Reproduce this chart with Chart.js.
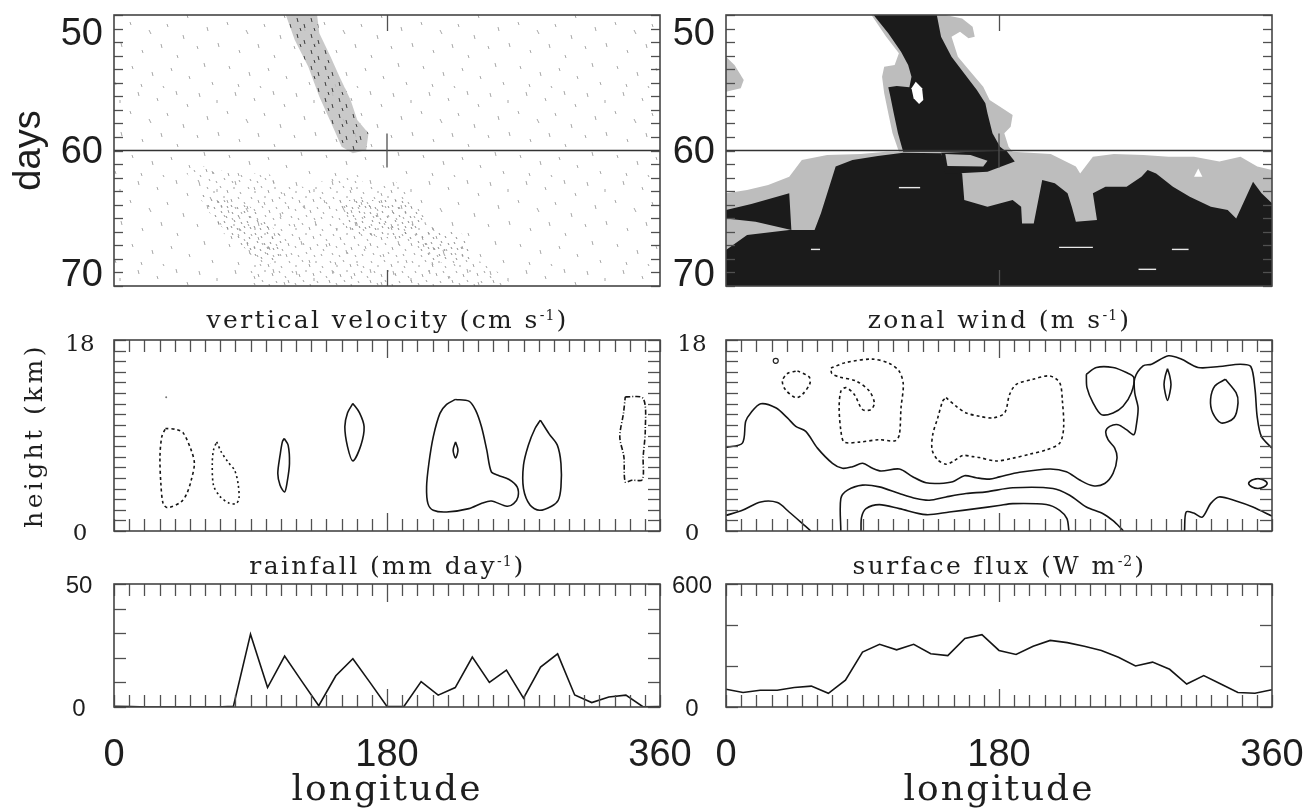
<!DOCTYPE html>
<html>
<head>
<meta charset="utf-8">
<script src="https://cdn.jsdelivr.net/npm/chart.js@4.4.1/dist/chart.umd.min.js"></script>
<style>
  body { margin: 0; background: #fff; width: 1311px; height: 812px; overflow: hidden; position: relative; }
  canvas { position: absolute; left: 0; top: 0; }
</style>
</head>
<body>
<canvas id="tl" width="1311" height="812"></canvas>
<canvas id="tr" width="1311" height="812"></canvas>
<canvas id="ml" width="1311" height="812"></canvas>
<canvas id="mr" width="1311" height="812"></canvas>
<canvas id="bl" width="1311" height="812"></canvas>
<canvas id="br" width="1311" height="812"></canvas>
<script>
// ---- ticks ----
const lonTicks = [0,10,20,30,40,50,60,70,80,90,100,110,120,130,140,150,160,170,180,190,200,210,220,230,240,250,260,270,280,290,300,310,320,330,340,350,360];
const dayTicks = [50,51,52,53,54,55,56,57,58,59,60,61,62,63,64,65,66,67,68,69,70];
const heightTicks = [0,1,2,3,4,5,6,7,8,9,10,11,12,13,14,15,16,17,18];
const rainTicks = [0,10,20,30,40,50];
const fluxTicks = [0,200,400,600];
const dayMark = 60;

// ---- bottom row: line series ----
const lonGrid = [0,11.25,22.5,33.75,45,56.25,67.5,78.75,90,101.25,112.5,123.75,135,146.25,157.5,168.75,180,191.25,202.5,213.75,225,236.25,247.5,258.75,270,281.25,292.5,303.75,315,326.25,337.5,348.75,360];
const rainfall = [0.3,0.2,0,0,0,0,0,0.3,29.6,7.9,20.7,10.5,0.5,12.7,19.6,10,0.2,0.3,10.3,4.8,7.9,20.3,10,15,3.6,16.2,21.6,4.9,1.8,4.1,4.8,0.1,0.2];
const surfaceFlux = [87,71,82,82,95,102,67,131,268,306,279,306,260,251,334,353,276,256,296,325,314,296,276,243,200,219,184,112,153,112,71,67,84];

// ---- vertical velocity contours [lon, km] ----
const vvDown1 = [[33.9,9.66],[41.2,9.57],[45.6,9.25],[50.9,7.62],[53.0,6.36],[50.9,4.78],[48.0,3.52],[44.2,2.74],[35.3,2.2],[32.4,2.58],[30.9,4.47],[30.3,6.99],[31.5,8.87],[33.9,9.66]];
const vvDown2 = [[67.7,8.4],[70.7,7.46],[75.1,6.51],[79.5,5.73],[81.8,4.47],[82.4,3.05],[80.4,2.58],[75.7,2.64],[69.8,3.27],[65.6,4.31],[64.8,6.36],[65.6,7.62],[67.7,8.4]];
const vvDown3 = [[337.1,12.65],[348.9,12.49],[350.3,9.5],[348.9,6.99],[348.3,4.85],[341.5,4.78],[337.1,4.63],[336.2,6.99],[333.5,8.87],[335.9,11.08],[337.1,12.65]];
const vvUp1 = [[112.2,8.72],[114.8,8.09],[115.7,6.36],[114.2,4.63],[112.5,3.68],[109.5,4.31],[108.0,5.41],[109.5,7.14],[111.0,8.4],[112.2,8.72]];
const vvUp2 = [[157.5,12.02],[161.9,11.14],[164.9,9.82],[162.8,8.09],[157.5,6.61],[154.0,7.93],[152.2,9.82],[154.0,11.14],[157.5,12.02]];
const vvUp3 = [[225.2,12.4],[234.0,12.24],[238.4,11.39],[242.3,9.82],[245.8,7.62],[248.8,5.57],[253.2,5.26],[260.5,4.85],[265.8,4.15],[266.4,3.21],[263.5,2.58],[259.1,2.33],[248.8,2.83],[242.9,2.64],[234.0,2.11],[219.3,1.79],[210.5,1.95],[207.0,2.58],[206.1,4.15],[207.6,6.36],[210.5,8.87],[214.9,11.08],[219.3,11.93],[225.2,12.4]];
const vvUp3Core = [[225.2,8.4],[226.8,7.62],[225.2,6.89],[223.6,7.62],[225.2,8.4]];
const vvUp4 = [[281.1,10.45],[287.0,9.13],[292.3,8.09],[294.7,6.36],[294.7,4.15],[292.9,2.9],[288.5,2.33],[280.6,1.95],[274.4,2.42],[270.0,4.0],[270.0,6.2],[273.2,8.09],[277.6,9.66],[281.1,10.45]];
const vvSpot = [[34.4,12.6]];

// ---- zonal wind contours [lon, km] ----
const zwMid = [[0,7.87],[10.8,8.28],[13.0,10.34],[16.3,11.13],[22.9,11.99],[32.8,11.61],[40.5,10.66],[46.0,9.86],[52.6,9.39],[60.3,7.81],[70.2,6.38],[76.8,5.91],[83.4,6.06],[90.0,6.38],[96.6,5.91],[102.2,5.65],[114.3,5.84],[123.1,5.11],[131.9,4.54],[140.7,4.48],[149.5,4.64],[157.2,5.21],[164.9,5.02],[173.7,4.89],[180.3,5.1],[193.6,5.53],[213.4,5.84],[224.4,5.59],[233.2,4.8],[242.0,4.26],[249.7,4.48],[255.2,5.43],[257.8,6.86],[256.3,7.81],[251.9,8.6],[250.4,9.39],[253.0,9.86],[258.5,10.02],[264.0,9.55],[268.9,9.07],[270.6,10.02],[271.7,11.61],[269.5,13.03],[269.5,14.4],[275.0,15.56],[280.6,15.72],[291.7,16.51],[300.1,16.2],[311.2,15.41],[325.2,15.5],[339.0,15.72],[346.0,15.5],[348.8,13.35],[350.2,10.81],[353.0,8.91],[360,7.8]];
const zwLoop = [[237.6,14.77],[244.2,15.41],[255.2,15.41],[264.0,14.93],[268.9,14.46],[267.3,13.03],[261.8,11.76],[255.2,11.13],[247.5,10.97],[242.0,12.08],[238.0,13.51],[237.6,14.77]];
const zwLens = [[291.1,15.3],[292.6,14.6],[293.4,13.8],[292.6,13.0],[291.1,12.3],[289.6,13.0],[288.8,13.8],[289.6,14.6],[291.1,15.3]];
const zwEgg = [[329.3,14.3],[336.3,13.03],[337.6,12.08],[334.9,10.66],[326.5,10.18],[320.9,11.13],[319.5,12.4],[322.3,13.66],[329.3,14.3]];
const zwSmall = [[350.7,4.95],[354.5,4.8],[356.8,4.48],[354.5,4.15],[350.7,4.0],[346.9,4.15],[344.6,4.48],[346.9,4.8],[350.7,4.95]];
const zwLow1 = [[75.7,0],[75.7,3.06],[80.1,3.85],[90.0,4.32],[101.1,4.16],[114.3,3.53],[125.3,3.06],[134.1,2.9],[145.1,3.21],[158.3,3.53],[171.6,3.69],[189.1,4.07],[215.6,4.01],[226.6,3.37],[237.6,2.26],[248.6,1.63],[255.2,0.97],[260.7,0.21],[262,0]];
const zwLow2 = [[89.0,0],[89.4,1.31],[92.3,2.11],[101.1,2.49],[114.3,2.11],[131.9,1.54],[147.3,1.79],[164.9,2.11],[180,2.4],[189.1,2.58],[211.2,2.49],[220.0,1.95],[224.8,1.16],[226.1,0]];
const zwHillW = [[0,1.47],[10.8,1.95],[22.9,2.74],[33.9,2.68],[41.6,1.79],[49.3,0.84],[55.9,0]];
const zwHillE = [[302.3,0],[303.4,1.79],[308.4,1.69],[314.0,1.31],[319.5,2.58],[325.1,3.21],[336.3,2.83],[347.4,2.26],[360,1.4]];
const zwEast1 = [[47.1,15.09],[54.8,14.52],[55.3,13.89],[50.4,12.87],[46.0,12.56],[39.0,13.35],[37.2,14.14],[40.5,14.84],[47.1,15.09]];
const zwEast2 = [[69.2,15.35],[79.1,15.88],[96.6,16.2],[107.7,15.79],[114.3,15.03],[116.9,13.82],[115.4,11.61],[114.3,9.07],[111.6,8.5],[101.1,8.6],[87.9,8.38],[78.0,8.38],[75.8,9.39],[74.6,11.61],[75.8,13.19],[79.1,13.51],[84.6,12.87],[90.0,11.45],[95.6,11.45],[97.8,12.08],[94.5,13.19],[85.7,14.14],[74.6,14.52],[69.8,14.84],[69.2,15.35]];
const zwEast3 = [[145.1,12.56],[151.7,11.76],[158.3,11.13],[167.1,10.81],[176.0,10.66],[183.7,11.13],[187.0,12.87],[191.4,13.82],[202.4,14.3],[213.4,14.61],[220.0,13.98],[221.8,12.24],[222.6,9.71],[220.0,8.28],[211.2,7.65],[200.2,7.24],[189.1,6.86],[178.2,6.6],[167.1,6.92],[162.7,7.01],[156.1,7.11],[149.5,6.54],[145.1,6.29],[139.6,6.7],[135.9,7.65],[136.3,9.07],[139.6,10.66],[142.9,12.24],[145.1,12.56]];
const zwDot = [[32.8,16.04]];

// ---- top left: speckle regions [lon, day] ----
const tlBand = [[113.3,50.0],[119.2,51.85],[128.1,53.81],[135.4,56.03],[144.3,58.24],[150.1,59.72],[157.5,60.21],[166.3,59.96],[167.8,58.73],[160.4,57.75],[156.0,56.27],[148.7,54.55],[142.8,53.08],[135.4,51.35],[133.9,50.0],[113.3,50.0]];
const tlLower = [[42.7,61.19],[57.4,62.67],[66.2,64.15],[72.1,66.11],[89.8,67.59],[89.8,70],[263.5,70],[248.8,68.57],[219.3,67.1],[204.6,64.64],[195.8,63.16],[184.0,62.18],[175.2,62.67],[145.7,61.69],[131.0,62.67],[113.3,62.67],[101.6,61.69],[78.0,61.69],[60.4,61.19],[42.7,61.19]];
const tlCore1 = [[148.7,63.65],[189.9,63.65],[207.6,65.13],[189.9,66.61],[153.9,66.11],[148.7,63.65]];
const tlCore2 = [[189.9,65.87],[228.2,65.87],[237.0,68.08],[208.5,68.33],[189.9,65.87]];
const tlCore3 = [[54.5,63.16],[89.8,64.15],[113.3,66.61],[107.5,68.57],[89.8,67.59],[66.2,65.13],[54.5,63.16]];

// ---- top right: shaded regions [lon, day] ----
const trBlackUpper = [[97.3,50.0],[139.0,50.0],[141.8,51.6],[148.7,53.08],[157.1,54.31],[165.4,55.54],[171.0,56.52],[172.4,57.26],[175.7,58.73],[180.7,59.72],[184.9,60.09],[116.8,60.09],[113.4,58.73],[110.6,57.26],[108.4,56.03],[107.0,55.34],[112.6,55.24],[120.9,55.34],[122.3,54.55],[120.1,53.69],[115.4,52.71],[107.0,51.35],[97.3,50.0]];
const trGrayUpper = [[95.9,50.0],[144.6,50.0],[155.7,50.25],[162.6,50.86],[164.0,51.6],[159.9,51.72],[154.3,51.23],[148.7,51.6],[152.9,53.08],[161.2,54.18],[169.6,55.29],[173.8,56.27],[180.7,56.77],[189.0,57.38],[187.7,58.24],[183.5,58.73],[186.3,59.72],[189.0,60.09],[114.0,60.09],[109.8,58.73],[107.0,57.26],[104.3,55.78],[102.9,54.55],[104.3,53.81],[111.2,53.69],[114.0,52.83],[105.6,51.6],[95.9,50.0]];
const trHole = [[125.1,54.92],[129.3,55.41],[130.1,56.27],[127.3,56.57],[123.7,56.15],[122.3,55.41],[125.1,54.92]];
const trGrayEdge = [[0,53.08],[5.6,53.69],[11.7,54.8],[9.7,55.41],[0,55.66],[0,53.08]];
const trGrayLower = [[0,63.16],[13.9,62.92],[27.8,62.55],[41.7,61.93],[50.0,60.7],[66.7,60.33],[89.0,60.26],[105.6,60.09],[189.0,60.09],[214.1,60.26],[230.7,61.19],[233.5,61.69],[241.9,60.46],[255.8,60.26],[275.2,60.33],[291.9,60.46],[308.6,60.46],[325.3,60.82],[339.2,60.46],[350.3,61.19],[360,61.44],[360,70],[0,70],[0,63.16]];
const trBlackLower = [[0,67.34],[13.9,66.24],[41.7,65.87],[58.4,65.87],[62.6,64.64],[68.1,62.67],[72.3,61.19],[83.4,60.7],[100.1,60.41],[116.8,60.16],[141.8,60.21],[144.6,61.07],[155.7,61.69],[157.1,63.65],[172.4,64.15],[189.0,63.65],[194.6,64.15],[195.2,65.38],[202.9,65.38],[208.5,62.18],[216.8,62.42],[225.2,63.16],[228.0,64.15],[230.7,65.25],[244.6,65.13],[241.9,63.16],[250.2,62.67],[264.1,62.67],[273.9,61.93],[278.0,61.44],[283.6,61.69],[294.7,62.67],[305.8,63.41],[319.7,64.15],[330.8,64.39],[336.4,65.01],[342.0,63.65],[347.5,62.3],[353.1,63.16],[360,63.9],[360,70],[0,70],[0,67.34]];
const trBlackTongue = [[141.8,60.16],[184.9,60.01],[190.4,60.82],[172.4,61.56],[144.6,61.73],[141.8,60.16]];
const trGrayBar = [[144.6,60.26],[161.2,60.33],[172.4,60.75],[169.6,61.19],[146.0,61.14],[144.6,60.26]];
const trBlackWest = [[41.7,63.16],[43.1,65.87],[19.5,65.25],[0,65.01],[0,64.39],[16.7,63.95],[41.7,63.16]];
const trNotch = [[311.4,61.32],[314.1,61.93],[308.6,61.93],[311.4,61.32]];
const trStreaks = [
  [[114,62.74],[128,62.74]],
  [[219.6,67.15],[241.9,67.15]],
  [[272,68.77],[283.6,68.77]],
  [[56,67.3],[62,67.3]],
  [[294,67.3],[305,67.3]]
];

// ---------------------------------------------------------------
const W = 1311, H = 812;
const pts = a => a.map(([x, y]) => ({x, y}));
const SANS = '"Liberation Sans", Arial, sans-serif';
const SERIF = '"DejaVu Serif", serif';

// speckle textures (fixed hand-placed dashes per tile)
function pattern(w, h, bg, color, dashes) {
  const c = document.createElement('canvas');
  c.width = w; c.height = h;
  const g = c.getContext('2d');
  if (bg) { g.fillStyle = bg; g.fillRect(0, 0, w, h); }
  g.strokeStyle = color; g.lineWidth = 1;
  dashes.forEach(([x0, y0, x1, y1]) => { g.beginPath(); g.moveTo(x0, y0); g.lineTo(x1, y1); g.stroke(); });
  return g.createPattern(c, 'repeat');
}
const speckleSparse = pattern(97, 89, null, '#a6a6a6', [[5,4,6,8],[23,11,23,14],[41,3,42,7],[60,9,61,12],[79,2,80,6],[90,15,91,18],[13,27,14,31],[33,22,34,25],[52,30,54,34],[70,24,71,27],[86,35,87,39],[3,46,4,49],[24,43,25,47],[45,50,46,53],[64,44,65,48],[80,55,81,58],[10,63,11,67],[35,66,36,69],[55,72,56,76],[74,68,75,71],[92,76,93,79],[18,82,19,85],[44,84,45,87],[66,86,67,88]]);
const speckleDense = pattern(41, 37, null, '#a0a0a0', [[2,2,3,4],[9,6,9,8],[15,1,16,3],[22,5,23,8],[29,2,29,4],[35,7,36,9],[5,12,6,14],[12,15,13,18],[19,11,19,13],[26,14,27,17],[33,12,34,14],[39,17,40,19],[1,21,2,24],[8,24,9,26],[16,21,17,23],[23,25,24,28],[30,22,31,24],[36,27,37,29],[4,31,5,33],[11,33,12,35],[19,30,20,32],[27,33,28,35],[34,32,35,34]]);
const speckleCore = pattern(23, 21, null, '#8a8a8a', [[2,2,3,4],[8,5,9,7],[14,1,15,3],[19,6,20,8],[4,10,5,12],[11,12,12,14],[17,11,18,13],[1,16,2,18],[7,18,8,20],[14,16,15,18],[20,17,21,19]]);
const speckleBand = pattern(14, 16, 'rgba(192,192,192,0.85)', '#3a3a3a', [[3,2,4,6],[10,8,11,12],[6,12,7,15]]);

const frame = {
  id: 'frame',
  beforeDatasetsDraw(chart, args, o) {
    if (!o.area) return;
    const {ctx, chartArea: a} = chart;
    ctx.save();
    ctx.fillStyle = o.area;
    ctx.fillRect(a.left, a.top, a.width, a.height);
    ctx.restore();
  },
  afterDatasetsDraw(chart, args, o) {
    const {ctx, chartArea: a, scales: {x, y}} = chart;
    const seg = (x0, y0, x1, y1) => { ctx.beginPath(); ctx.moveTo(x0, y0); ctx.lineTo(x1, y1); ctx.stroke(); };
    ctx.save();
    ctx.strokeStyle = '#505050';
    ctx.lineWidth = 1.3;
    (o.xTicks || []).forEach(v => {
      const p = Math.round(x.getPixelForValue(v)) + 0.5;
      const len = v === o.xMajor ? o.xMajorLen : o.xTickLen;
      seg(p, a.top, p, a.top + len);
      seg(p, a.bottom, p, a.bottom - len);
    });
    (o.yTicks || []).forEach(v => {
      const p = Math.round(y.getPixelForValue(v)) + 0.5;
      seg(a.left, p, a.left + o.yTickLen, p);
      seg(a.right, p, a.right - o.yTickLen, p);
    });
    if (o.cross) {
      const p = x.getPixelForValue(o.cross.x), q = y.getPixelForValue(o.cross.y);
      seg(p, q - o.cross.len, p, q + o.cross.len);
    }
    ctx.lineWidth = 1.6;
    ctx.strokeStyle = '#454545';
    ctx.strokeRect(a.left, a.top, a.width, a.height);

    ctx.fillStyle = '#1e1e1e';
    ctx.textBaseline = 'alphabetic';
    (o.labels || []).forEach(l => {
      ctx.font = l.font;
      ctx.textAlign = l.align || 'center';
      ctx.letterSpacing = l.spacing || '0px';
      if (l.axis === 'title') {
        // main text, raised superscript, closing bracket
        const cx = (a.left + a.right) / 2, by = a.top + l.dy;
        const sup = l.sup, supFont = '14px ' + SERIF;
        ctx.textAlign = 'left';
        const w1 = ctx.measureText(l.text).width;
        ctx.font = supFont; ctx.letterSpacing = '1px';
        const w2 = ctx.measureText(sup).width;
        ctx.font = l.font; ctx.letterSpacing = l.spacing;
        const w3 = ctx.measureText(')').width;
        let px = cx - (w1 + w2 + w3) / 2;
        ctx.fillText(l.text, px, by); px += w1;
        ctx.font = supFont; ctx.letterSpacing = '1px';
        ctx.fillText(sup, px, by - 8); px += w2 + 1;
        ctx.font = l.font; ctx.letterSpacing = l.spacing;
        ctx.fillText(')', px, by);
        return;
      }
      let px, py;
      if (l.axis === 'x') { px = x.getPixelForValue(l.v); py = a.bottom + l.dy; }
      else if (l.axis === 'y') { px = a.left + l.dx; py = y.getPixelForValue(l.v) + l.dy; }
      else { px = a.left + l.dx; py = (a.top + a.bottom) / 2; }
      if (l.axis === 'side') {
        ctx.save(); ctx.translate(px, py); ctx.rotate(-Math.PI / 2); ctx.fillText(l.text, 0, 0); ctx.restore();
      } else {
        ctx.fillText(l.text, px, py);
      }
    });
    ctx.restore();
  }
};

const contour = (data, dash) => ({
  data: pts(data), showLine: true, borderColor: '#151515', borderWidth: 1.6,
  borderDash: dash || [], pointRadius: 0, tension: 0.3, fill: false, order: 1
});
const region = (data, color, order) => ({
  data: pts(data), showLine: true, borderColor: 'rgba(0,0,0,0)', borderWidth: 1,
  backgroundColor: color, fill: 'shape', pointRadius: 0, tension: 0, order
});
const lineAt = (v, order) => ({
  data: [{x: 0, y: v}, {x: 360, y: v}], showLine: true, borderColor: '#333', borderWidth: 1.5,
  pointRadius: 0, fill: false, order
});

function panel(id, box, yScale, datasets, frameOpts) {
  new Chart(document.getElementById(id), {
    type: 'scatter',
    data: {datasets},
    options: {
      responsive: false, animation: false, events: [],
      layout: {padding: {left: box[0], top: box[1], right: W - box[2], bottom: H - box[3]}},
      scales: {
        x: {type: 'linear', display: false, min: 0, max: 360},
        y: Object.assign({type: 'linear', display: false}, yScale)
      },
      plugins: {legend: {display: false}, tooltip: {enabled: false}, frame: frameOpts}
    },
    plugins: [frame]
  });
}

const dayLabels = dx => [
  {axis: 'y', v: 50, text: '50', dx, dy: 30, align: 'right', font: '38px ' + SANS},
  {axis: 'y', v: 60, text: '60', dx, dy: 12, align: 'right', font: '38px ' + SANS},
  {axis: 'y', v: 70, text: '70', dx, dy: 0, align: 'right', font: '38px ' + SANS}
];
const lonLabels = [
  {axis: 'x', v: 0, text: '0', dy: 59, font: '38px ' + SANS},
  {axis: 'x', v: 180, text: '180', dy: 59, font: '38px ' + SANS},
  {axis: 'x', v: 360, text: '360', dy: 59, font: '38px ' + SANS},
  {axis: 'x', v: 180, text: 'longitude', dy: 93, font: '36px ' + SERIF, spacing: '2px'}
];
const titleFont = '25px ' + SERIF, titleSpacing = '2.4px';

// top left: speckle Hovmoller
panel('tl', [114, 15, 660, 286], {min: 50, max: 70, reverse: true}, [
  region(tlLower, speckleDense, 6),
  region(tlCore1, speckleCore, 5),
  region(tlCore2, speckleCore, 5),
  region(tlCore3, speckleCore, 5),
  region(tlBand, speckleBand, 4),
  lineAt(dayMark, 0)
], {
  area: speckleSparse,
  xTicks: [180], xMajor: 180, xTickLen: 16, xMajorLen: 16,
  yTicks: dayTicks, yTickLen: 9,
  cross: {x: 180, y: dayMark, len: 17},
  labels: dayLabels(-11).concat([{axis: 'side', dx: -74, text: 'days', font: '38px ' + SANS}])
});

// top right: shaded Hovmoller
const BLACK = '#1b1b1b', GRAY = '#bdbdbd';
panel('tr', [726, 15, 1272, 286], {min: 50, max: 70, reverse: true}, [
  region(trGrayLower, GRAY, 9),
  region(trGrayUpper, GRAY, 8),
  region(trGrayEdge, GRAY, 8),
  region(trBlackLower, BLACK, 7),
  region(trBlackUpper, BLACK, 6),
  region(trBlackTongue, BLACK, 6),
  region(trBlackWest, BLACK, 6),
  region(trGrayBar, GRAY, 5),
  region(trHole, '#ffffff', 4),
  region(trNotch, '#ffffff', 4)
].concat(trStreaks.map(s => ({data: pts(s), showLine: true, borderColor: '#e8e8e8', borderWidth: 1.4, pointRadius: 0, order: 3})))
 .concat([lineAt(dayMark, 0)]), {
  xTicks: [180], xMajor: 180, xTickLen: 16, xMajorLen: 16,
  yTicks: dayTicks, yTickLen: 9,
  cross: {x: 180, y: dayMark, len: 17},
  labels: dayLabels(-11)
});

// middle left: vertical velocity
panel('ml', [114, 340, 660, 531], {min: 0, max: 18}, [
  contour(vvDown1, [3, 3]),
  contour(vvDown2, [2, 3]),
  contour(vvDown3, [5, 2, 1, 2]),
  contour(vvUp1), contour(vvUp2), contour(vvUp3), contour(vvUp3Core), contour(vvUp4),
  {data: pts(vvSpot), pointRadius: 1, pointBackgroundColor: '#777', pointBorderWidth: 0}
], {
  xTicks: lonTicks, xMajor: 180, xTickLen: 12, xMajorLen: 18,
  yTicks: heightTicks, yTickLen: 12,
  labels: [
    {axis: 'y', v: 18, text: '18', dx: -34, dy: 11, font: '23px ' + SERIF},
    {axis: 'y', v: 0, text: '0', dx: -34, dy: 9, font: '23px ' + SERIF},
    {axis: 'side', dx: -72, text: 'height (km)', font: '25px ' + SERIF, spacing: '3.4px'},
    {axis: 'title', dy: -12, text: 'vertical velocity (cm s', sup: '-1', font: titleFont, spacing: titleSpacing}
  ]
});

// middle right: zonal wind
panel('mr', [726, 340, 1272, 531], {min: 0, max: 18}, [
  contour(zwMid), contour(zwLoop), contour(zwLens), contour(zwEgg), contour(zwSmall),
  contour(zwLow1), contour(zwLow2), contour(zwHillW), contour(zwHillE),
  contour(zwEast1, [3, 3]), contour(zwEast2, [3, 3]), contour(zwEast3, [3, 3]),
  {data: pts(zwDot), pointRadius: 2.5, pointBackgroundColor: '#fff', pointBorderColor: '#222', pointBorderWidth: 1.2}
], {
  xTicks: lonTicks, xMajor: 180, xTickLen: 12, xMajorLen: 18,
  yTicks: heightTicks, yTickLen: 12,
  labels: [
    {axis: 'y', v: 18, text: '18', dx: -34, dy: 11, font: '23px ' + SERIF},
    {axis: 'y', v: 0, text: '0', dx: -34, dy: 9, font: '23px ' + SERIF},
    {axis: 'title', dy: -12, text: 'zonal wind (m s', sup: '-1', font: titleFont, spacing: titleSpacing}
  ]
});

// bottom left: rainfall
panel('bl', [114, 584, 660, 707], {min: 0, max: 50}, [
  {data: lonGrid.map((x, i) => ({x, y: rainfall[i]})), showLine: true, borderColor: '#151515', borderWidth: 1.6, pointRadius: 0, tension: 0}
], {
  xTicks: lonTicks, xMajor: 180, xTickLen: 12, xMajorLen: 18,
  yTicks: rainTicks, yTickLen: 12,
  labels: [
    {axis: 'y', v: 50, text: '50', dx: -35, dy: 9, font: '24px ' + SANS},
    {axis: 'y', v: 0, text: '0', dx: -35, dy: 9, font: '24px ' + SANS},
    {axis: 'title', dy: -10, text: 'rainfall (mm day', sup: '-1', font: titleFont, spacing: titleSpacing}
  ].concat(lonLabels)
});

// bottom right: surface flux
panel('br', [726, 584, 1272, 707], {min: 0, max: 600}, [
  {data: lonGrid.map((x, i) => ({x, y: surfaceFlux[i]})), showLine: true, borderColor: '#151515', borderWidth: 1.6, pointRadius: 0, tension: 0}
], {
  xTicks: lonTicks, xMajor: 180, xTickLen: 12, xMajorLen: 18,
  yTicks: fluxTicks, yTickLen: 12,
  labels: [
    {axis: 'y', v: 600, text: '600', dx: -34, dy: 9, font: '24px ' + SANS},
    {axis: 'y', v: 0, text: '0', dx: -34, dy: 9, font: '24px ' + SANS},
    {axis: 'title', dy: -10, text: 'surface flux (W m', sup: '-2', font: titleFont, spacing: titleSpacing}
  ].concat(lonLabels)
});
</script>
</body>
</html>
